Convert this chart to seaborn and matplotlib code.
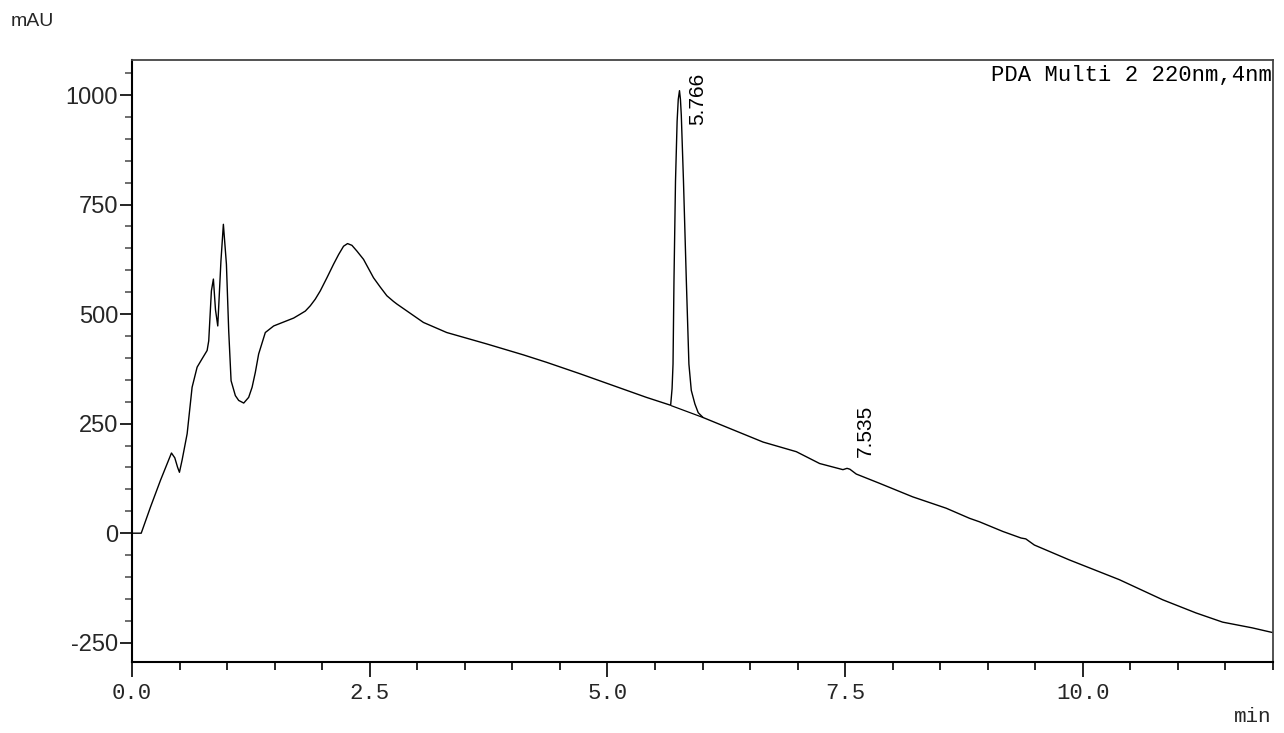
import matplotlib
matplotlib.use("Agg")
import matplotlib.pyplot as plt
import seaborn as sns
import pandas as pd
from matplotlib.ticker import MultipleLocator, FixedLocator

# ---- data ----
time_min = [0.00, 0.097, 0.195, 0.30, 0.415, 0.45, 0.48, 0.499, 0.527, 0.58,
            0.632, 0.685, 0.737, 0.79, 0.807, 0.835, 0.856, 0.878, 0.902, 0.935,
            0.961, 0.993, 1.017, 1.042, 1.087, 1.122, 1.175, 1.227, 1.263, 1.297,
            1.332, 1.402, 1.49, 1.56, 1.63, 1.70, 1.77, 1.823, 1.875, 1.927,
            1.98, 2.05, 2.12, 2.173, 2.225, 2.267, 2.313, 2.365, 2.435, 2.54,
            2.61, 2.68, 2.75, 2.786, 3.065, 3.31, 3.73, 4.116, 4.36, 4.71,
            5.06, 5.41, 5.665, 5.68, 5.69, 5.70, 5.716, 5.733, 5.745, 5.758,
            5.768, 5.777, 5.80, 5.83, 5.857, 5.882, 5.92, 5.955, 6.006, 6.287,
            6.637, 6.987, 7.232, 7.477, 7.52, 7.55, 7.617, 7.86, 8.21, 8.563,
            8.808, 8.913, 9.158, 9.35, 9.40, 9.49, 9.858, 10.383, 10.84, 11.19,
            11.47, 11.78, 12.0]
signal_mau = [0, 0, 60, 121, 183, 172, 150, 139, 167, 227,
              333, 379, 398, 417, 439, 553, 580, 510, 473, 620,
              705, 614, 462, 348, 314, 303, 297, 310, 333, 367,
              409, 458, 473, 479, 485, 491, 500, 507, 519, 534,
              553, 583, 614, 636, 655, 661, 657, 644, 625, 583,
              562, 542, 529, 523, 481, 458, 432, 407, 390, 364,
              337, 310, 292, 330, 386, 576, 803, 940, 990, 1010,
              990, 954, 803, 576, 386, 326, 295, 275, 264, 239,
              208, 186, 159, 145, 148, 146, 135, 114, 83, 57,
              34, 26, 4, -11, -13, -27, -61, -106, -152, -182,
              -203, -216, -227]

# integration baseline under the main peak
base_time = [5.672, 6.006]
base_mau = [291, 264]

peak_times = [5.766, 7.535]
peak_heights = [1010, 147]
peak_labels = ["5.766", "7.535"]

x_major = [0.0, 2.5, 5.0, 7.5, 10.0]
x_labels = ["0.0", "2.5", "5.0", "7.5", "10.0"]
y_major = [-250, 0, 250, 500, 750, 1000]
y_labels = ["-250", "0", "250", "500", "750", "1000"]

sns.set_style("ticks")
plt.rcParams["font.family"] = ["Liberation Sans", "DejaVu Sans"]

fig = plt.figure(figsize=(12.84, 7.33), dpi=100)
ax = fig.add_axes([132 / 1284, 1 - 662 / 733, (1273 - 132) / 1284, (662 - 60) / 733])

df = pd.DataFrame({"t": time_min, "y": signal_mau})
sns.lineplot(data=df, x="t", y="y", ax=ax, color="black", linewidth=1.0,
             estimator=None, sort=False)
dfb = pd.DataFrame({"t": base_time, "y": base_mau})
sns.lineplot(data=dfb, x="t", y="y", ax=ax, color="black", linewidth=0.9,
             estimator=None, sort=False)

ax.set_xlim(0, 12)
ax.set_ylim(-294, 1080)
ax.set_xlabel("")
ax.set_ylabel("")

ax.xaxis.set_major_locator(FixedLocator(x_major))
ax.set_xticklabels(x_labels, fontfamily="Liberation Mono", fontsize=16)
ax.xaxis.set_minor_locator(MultipleLocator(0.5))
ax.yaxis.set_major_locator(FixedLocator(y_major))
ax.set_yticklabels(y_labels, fontsize=17)
ax.yaxis.set_minor_locator(MultipleLocator(50))

ax.tick_params(axis="x", which="major", direction="out", length=11, width=1.2,
               color="black", pad=4)
ax.tick_params(axis="x", which="minor", direction="out", length=6, width=1.2,
               color="black")
ax.tick_params(axis="y", which="major", direction="out", length=9, width=1.2,
               color="black", pad=1)
ax.tick_params(axis="y", which="minor", direction="out", length=5, width=1.2,
               color="#555555")

for side in ["left", "bottom"]:
    ax.spines[side].set_color("black")
    ax.spines[side].set_linewidth(1.5)
for side in ["top", "right"]:
    ax.spines[side].set_visible(True)
    ax.spines[side].set_color("#444444")
    ax.spines[side].set_linewidth(1.3)

ax.text(0.999, 0.992, "PDA Multi 2 220nm,4nm", transform=ax.transAxes,
        ha="right", va="top", fontfamily="Liberation Mono", fontsize=16,
        color="black")

offsets = [(5.8, -25.0), (5.0, 8.5)]
for t, h, lab, off in zip(peak_times, peak_heights, peak_labels, offsets):
    ax.annotate(lab, xy=(t, h), xytext=off, textcoords="offset points",
                rotation=90, ha="left", va="bottom", fontsize=15,
                color="black")

fig.text(11 / 1284, 1 - 30 / 733, "mAU", ha="left", va="bottom", fontsize=14)
fig.text(1271 / 1284, 1 - 726 / 733, "min", ha="right", va="bottom",
         fontfamily="Liberation Mono", fontsize=15)

fig.savefig("out.png", dpi=100, facecolor="white")
